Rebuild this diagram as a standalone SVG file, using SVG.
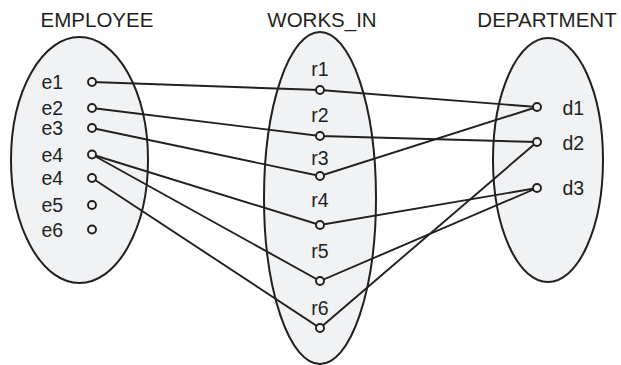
<svg xmlns="http://www.w3.org/2000/svg" width="621" height="365" viewBox="0 0 621 365">
<style>
.set{fill:#f1f2f4;stroke:#231f20;stroke-width:2}
.title{font-family:"Liberation Sans",Arial,sans-serif;font-size:20.5px;fill:#231f20;text-anchor:middle}
.lbl{font-family:"Liberation Sans",Arial,sans-serif;font-size:19.5px;fill:#231f20}
.pt{fill:#f1f2f4;stroke:#231f20;stroke-width:1.9}
.link{stroke:#231f20;stroke-width:1.9;fill:none}
</style>
<rect width="621" height="365" fill="#ffffff"/>
<g id="employee">
<ellipse class="set" cx="79.5" cy="160" rx="68.5" ry="123"/>
<text class="title" x="97" y="27">EMPLOYEE</text>
</g>
<g id="works_in">
<ellipse class="set" cx="320" cy="198" rx="56" ry="166"/>
<text class="title" x="322" y="27">WORKS_IN</text>
</g>
<g id="department">
<ellipse class="set" cx="548" cy="160" rx="55" ry="122"/>
<text class="title" x="547" y="27">DEPARTMENT</text>
</g>
<g id="connectors">
<polyline class="link" points="92,82 320,90 537,107"/>
<polyline class="link" points="92,108 320,136 537,142"/>
<polyline class="link" points="92,128 320,176 537,107"/>
<polyline class="link" points="92,154.5 320,225 537,188"/>
<polyline class="link" points="92,154.5 320,281 537,188"/>
<polyline class="link" points="92,178 320,328 537,142"/>
</g>
<g id="e1"><circle class="pt" cx="92" cy="82" r="4"/><text class="lbl" x="41.5" y="89">e1</text></g>
<g id="e2"><circle class="pt" cx="92" cy="108" r="4"/><text class="lbl" x="41.5" y="115">e2</text></g>
<g id="e3"><circle class="pt" cx="92" cy="128" r="4"/><text class="lbl" x="41.5" y="135">e3</text></g>
<g id="e4a"><circle class="pt" cx="92" cy="154.5" r="4"/><text class="lbl" x="41.5" y="161.5">e4</text></g>
<g id="e4b"><circle class="pt" cx="92" cy="178" r="4"/><text class="lbl" x="41.5" y="185">e4</text></g>
<g id="e5"><circle class="pt" cx="92" cy="205" r="4"/><text class="lbl" x="41.5" y="212">e5</text></g>
<g id="e6"><circle class="pt" cx="92" cy="229.5" r="4"/><text class="lbl" x="41.5" y="236.5">e6</text></g>
<g id="r1"><circle class="pt" cx="320" cy="90" r="4"/><text class="lbl" x="320" y="76" text-anchor="middle">r1</text></g>
<g id="r2"><circle class="pt" cx="320" cy="136" r="4"/><text class="lbl" x="320" y="121.5" text-anchor="middle">r2</text></g>
<g id="r3"><circle class="pt" cx="320" cy="176" r="4"/><text class="lbl" x="320" y="164.5" text-anchor="middle">r3</text></g>
<g id="r4"><circle class="pt" cx="320" cy="225" r="4"/><text class="lbl" x="320" y="207" text-anchor="middle">r4</text></g>
<g id="r5"><circle class="pt" cx="320" cy="281" r="4"/><text class="lbl" x="320" y="257.5" text-anchor="middle">r5</text></g>
<g id="r6"><circle class="pt" cx="320" cy="328" r="4"/><text class="lbl" x="320" y="315" text-anchor="middle">r6</text></g>
<g id="d1"><circle class="pt" cx="537" cy="107" r="4"/><text class="lbl" x="562.5" y="114.5">d1</text></g>
<g id="d2"><circle class="pt" cx="537" cy="142" r="4"/><text class="lbl" x="562.5" y="149.5">d2</text></g>
<g id="d3"><circle class="pt" cx="537" cy="188" r="4"/><text class="lbl" x="562.5" y="195">d3</text></g>
</svg>
